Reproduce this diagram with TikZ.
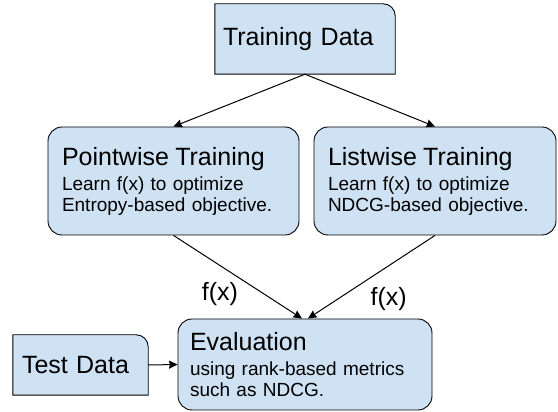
\documentclass[tikz,border=0pt]{standalone}
\usepackage{fontspec}
\setmainfont{Liberation Sans}
\usetikzlibrary{arrows.meta,backgrounds,positioning}
\definecolor{boxblue}{HTML}{CFE2F3}
\tikzset{
  box/.style={draw, fill=boxblue, line width=0.9pt, rounded corners=14pt, align=left,
    inner xsep=14pt, inner ysep=0pt, font=\fontsize{19}{21}\selectfont},
  flatbox/.style={align=left, inner xsep=9pt, inner ysep=0pt, font=\fontsize{25}{28}\selectfont},
  arrow/.style={-{Stealth[length=8.5pt,width=8pt,inset=0.8pt]}, line width=1pt},
  flabel/.style={font=\fontsize{25}{28}\selectfont},
}
\newcommand{\headline}[1]{{\fontsize{25}{28}\selectfont #1}\\[4pt]}

\begin{document}
\begin{tikzpicture}[x=1pt,y=1pt]
    \useasboundingbox (0,0) rectangle (558,412);
    % Data boxes (only the top right corner is rounded)
    \node[flatbox, inner xsep=8pt, text width=164pt, minimum height=70pt] (td) at (305,373) {Training Data};
    \node[flatbox, text width=117pt, minimum height=60pt] (tst) at (80.5,47) {Test Data};
    % Training and evaluation steps
    \node[box, text width=223pt, minimum height=108pt] (pw) at (173.5,231)
        {\headline{Pointwise Training}Learn f(x) to optimize\\Entropy-based objective.};
    \node[box, text width=214pt, minimum height=108pt] (ls) at (435,231)
        {\headline{Listwise Training}Learn f(x) to optimize\\NDCG-based objective.};
    \node[box, inner xsep=12pt, text width=230pt, minimum height=91pt] (ev) at (305,47.5)
        {\headline{Evaluation}using rank-based metrics\\such as NDCG.};
    % Outlines of the data boxes, behind their text
    \begin{scope}[on background layer]
        \foreach \n in {td,tst} {
            \filldraw[fill=boxblue, line width=0.9pt] (\n.south west) -- (\n.north west)
                -- ([xshift=-12pt]\n.north east) arc[start angle=90, end angle=0, radius=12pt]
                -- (\n.south east) -- cycle;
        }
    \end{scope}
    % Connectors
    \foreach \t in {pw,ls} {
        \draw[arrow] (td.south) -- (\t.north);
    }
    \draw[arrow] (pw.south) -- node[flabel, pos=0.71, left=23pt] (fpw) {f(x)} ([xshift=-3pt]ev.north);
    \draw[arrow] (ls.south) -- node[flabel, pos=0.765, right=29pt] (fls) {f(x)} ([xshift=3pt]ev.north);
    \draw[arrow] (tst.east) -- (ev.west);
\end{tikzpicture}
\end{document}
